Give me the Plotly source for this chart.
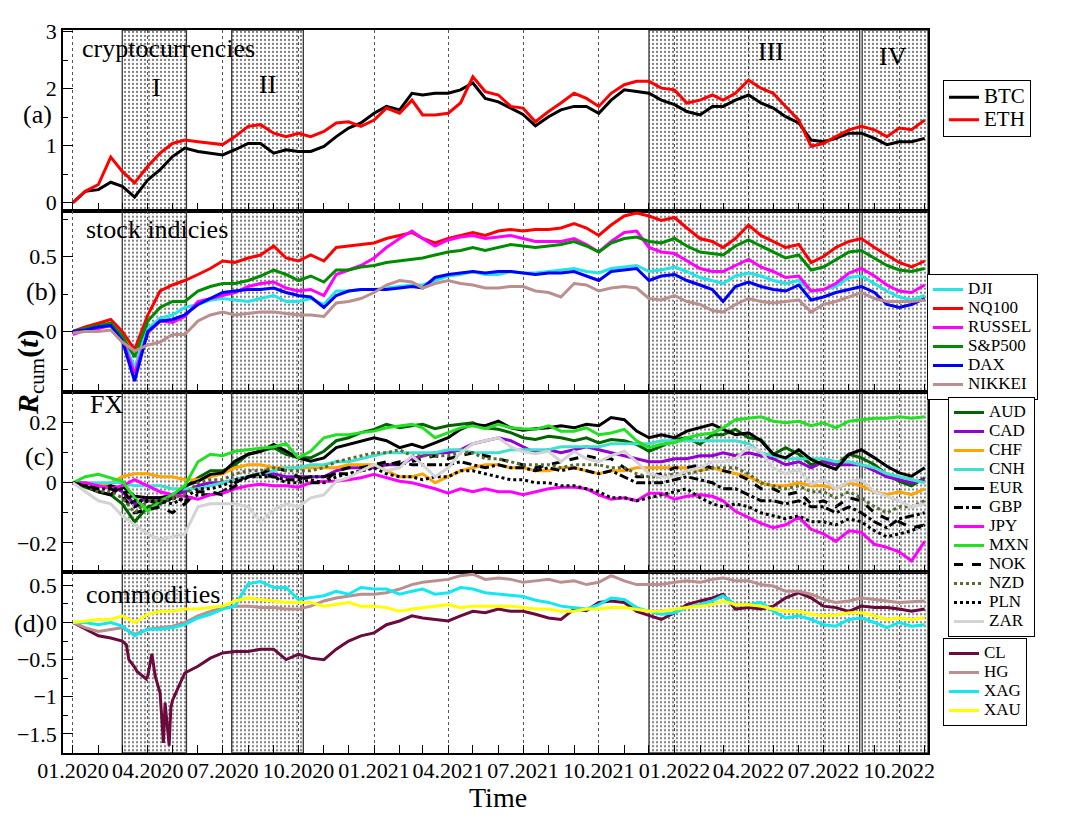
import pandas as pd
import plotly.graph_objects as go
from plotly.subplots import make_subplots

# ---------------- time grid (1st and 16th of each month) ----------------
month_starts = pd.date_range("2020-01-01", "2022-10-01", freq="MS")
dates = []
for d in month_starts:
    dates.append(d.strftime("%Y-%m-%d"))
    dates.append((d + pd.Timedelta(days=15)).strftime("%Y-%m-%d"))
dates.append("2022-11-01")

x_range = ["2019-12-20", "2022-11-05"]
quarter_ticks_start = "2020-01-01"

# ---------------- shaded periods ----------------
region_names = ["I", "II", "III", "IV"]
region_start = ["2020-03-01", "2020-07-12", "2021-12-01", "2022-08-17"]
region_end = ["2020-05-18", "2020-10-07", "2022-08-14", "2022-11-05"]

# ---------------- (a) cryptocurrencies ----------------
BTC = [0.0, 0.2, 0.23, 0.36, 0.29, 0.1, 0.4, 0.58, 0.81, 0.96, 0.9, 0.87,
       0.84, 0.93, 1.04, 1.04, 0.87, 0.93, 0.9, 0.9, 0.99, 1.16, 1.31, 1.4,
       1.57, 1.69, 1.63, 1.92, 1.89, 1.92, 1.92, 1.98, 2.1, 1.83, 1.77, 1.66,
       1.55, 1.35, 1.51, 1.63, 1.69, 1.69, 1.57, 1.8, 1.98, 1.95, 1.92, 1.8,
       1.72, 1.6, 1.54, 1.69, 1.69, 1.8, 1.89, 1.75, 1.66, 1.51, 1.4, 1.1,
       1.07, 1.13, 1.22, 1.22, 1.13, 1.02, 1.07, 1.07,
       1.13]
ETH = [0.0, 0.2, 0.32, 0.8, 0.55, 0.35, 0.64, 0.87, 1.04, 1.1, 1.07, 1.04,
       1.02, 1.16, 1.34, 1.37, 1.22, 1.16, 1.22, 1.16, 1.25, 1.4, 1.42, 1.34,
       1.45, 1.66, 1.57, 1.8, 1.54, 1.54, 1.57, 1.75, 2.21, 1.95, 1.89, 1.69,
       1.66, 1.42, 1.6, 1.75, 1.92, 1.83, 1.69, 1.92, 2.07, 2.13, 2.13, 2.01,
       1.98, 1.75, 1.8, 1.89, 1.8, 1.92, 2.15, 2.01, 1.92, 1.69, 1.45, 0.99,
       1.04, 1.16, 1.28, 1.34, 1.28, 1.16, 1.31, 1.28,
       1.45]

# ---------------- (b) stock indices ----------------
DJI = [0.0, 0.01, 0.03, 0.04, -0.04, -0.24, 0.02, 0.09, 0.11, 0.16, 0.18, 0.21,
       0.22, 0.21, 0.2, 0.22, 0.24, 0.2, 0.2, 0.22, 0.18, 0.27, 0.27, 0.28,
       0.28, 0.29, 0.3, 0.31, 0.31, 0.34, 0.37, 0.38, 0.4, 0.38, 0.38, 0.4,
       0.39, 0.39, 0.4, 0.41, 0.42, 0.4, 0.39, 0.42, 0.43, 0.44, 0.4, 0.41,
       0.43, 0.4, 0.36, 0.34, 0.32, 0.37, 0.39, 0.37, 0.34, 0.32, 0.34, 0.27,
       0.28, 0.3, 0.36, 0.37, 0.32, 0.27, 0.23, 0.21,
       0.24]
NQ100 = [0.0, 0.03, 0.055, 0.08, 0.0, -0.12, 0.11, 0.27, 0.31, 0.34, 0.38, 0.42,
         0.47, 0.46, 0.49, 0.51, 0.57, 0.49, 0.47, 0.51, 0.47, 0.56, 0.57, 0.58,
         0.59, 0.62, 0.64, 0.66, 0.62, 0.59, 0.62, 0.64, 0.66, 0.64, 0.67, 0.68,
         0.67, 0.68, 0.68, 0.69, 0.72, 0.69, 0.64, 0.71, 0.77, 0.79, 0.77, 0.74,
         0.76, 0.69, 0.62, 0.6, 0.56, 0.62, 0.71, 0.64, 0.6, 0.56, 0.58, 0.46,
         0.5, 0.56, 0.6, 0.62, 0.56, 0.51, 0.46, 0.43,
         0.47]
RUSSEL = [-0.02, 0.01, 0.02, 0.04, -0.05, -0.28, -0.01, 0.07, 0.06, 0.1, 0.2, 0.22,
          0.24, 0.26, 0.3, 0.32, 0.33, 0.29, 0.27, 0.28, 0.24, 0.38, 0.41, 0.44,
          0.49, 0.56, 0.62, 0.67, 0.62, 0.57, 0.61, 0.63, 0.64, 0.62, 0.63, 0.64,
          0.62, 0.6, 0.6, 0.6, 0.62, 0.58, 0.53, 0.6, 0.66, 0.67, 0.56, 0.53,
          0.52, 0.47, 0.42, 0.4, 0.4, 0.44, 0.48, 0.43, 0.4, 0.36, 0.37, 0.27,
          0.28, 0.32, 0.39, 0.42, 0.37, 0.31, 0.27, 0.26,
          0.31]
SP500 = [0.0, 0.02, 0.04, 0.055, -0.03, -0.17, 0.07, 0.16, 0.2, 0.2, 0.27, 0.3,
         0.32, 0.32, 0.34, 0.37, 0.41, 0.38, 0.34, 0.37, 0.33, 0.41, 0.41, 0.43,
         0.44, 0.46, 0.47, 0.48, 0.49, 0.51, 0.53, 0.54, 0.56, 0.54, 0.56, 0.58,
         0.57, 0.56, 0.57, 0.58, 0.6, 0.57, 0.53, 0.59, 0.62, 0.63, 0.6, 0.59,
         0.62, 0.57, 0.53, 0.52, 0.51, 0.57, 0.61, 0.57, 0.53, 0.49, 0.51, 0.41,
         0.43, 0.48, 0.53, 0.54, 0.49, 0.44, 0.41, 0.4,
         0.42]
DAX = [0.0, 0.01, 0.03, 0.04, -0.06, -0.33, 0.0, 0.07, 0.08, 0.11, 0.18, 0.22,
       0.26, 0.27, 0.28, 0.28, 0.29, 0.26, 0.24, 0.23, 0.16, 0.24, 0.27, 0.28,
       0.28, 0.28, 0.29, 0.3, 0.29, 0.36, 0.38, 0.39, 0.4, 0.39, 0.4, 0.4,
       0.39, 0.38, 0.39, 0.39, 0.4, 0.37, 0.34, 0.4, 0.41, 0.42, 0.34, 0.37,
       0.38, 0.34, 0.31, 0.28, 0.2, 0.3, 0.33, 0.3, 0.28, 0.27, 0.31, 0.21,
       0.23, 0.26, 0.28, 0.3, 0.26, 0.18, 0.16, 0.18,
       0.22]
NIKKEI = [-0.01, 0.0, 0.0, 0.01, -0.07, -0.13, -0.09, -0.07, -0.02, -0.02, 0.07, 0.11,
          0.13, 0.11, 0.12, 0.13, 0.13, 0.12, 0.11, 0.11, 0.1, 0.19, 0.2, 0.22,
          0.26, 0.31, 0.34, 0.33, 0.29, 0.32, 0.34, 0.32, 0.31, 0.29, 0.29, 0.3,
          0.3, 0.27, 0.26, 0.23, 0.32, 0.31, 0.27, 0.29, 0.3, 0.29, 0.22, 0.21,
          0.24, 0.2, 0.18, 0.14, 0.13, 0.18, 0.22, 0.2, 0.19, 0.2, 0.21, 0.13,
          0.18, 0.2, 0.23, 0.26, 0.22, 0.2, 0.2, 0.2,
          0.21]

# ---------------- (c) FX ----------------
AUD = [0.0, -0.015, -0.03, -0.04, -0.07, -0.13, -0.08, -0.07, -0.05, -0.015, 0.017, 0.04,
       0.04, 0.06, 0.095, 0.105, 0.117, 0.095, 0.083, 0.083, 0.105, 0.14, 0.15, 0.167,
       0.178, 0.195, 0.183, 0.19, 0.195, 0.18, 0.19, 0.195, 0.2, 0.183, 0.178, 0.167,
       0.15, 0.144, 0.155, 0.15, 0.14, 0.15, 0.133, 0.144, 0.14, 0.128, 0.105, 0.122,
       0.144, 0.15, 0.128, 0.16, 0.16, 0.178, 0.15, 0.144, 0.095, 0.117, 0.095, 0.06,
       0.072, 0.06, 0.095, 0.083, 0.06, 0.028, 0.005, -0.01,
       0.017]
CAD = [0.0, 0.0, -0.01, -0.01, -0.03, -0.07, -0.05, -0.05, -0.04, -0.03, -0.01, 0.0,
       0.0, 0.01, 0.02, 0.03, 0.03, 0.02, 0.02, 0.02, 0.02, 0.04, 0.05, 0.05,
       0.05, 0.06, 0.06, 0.08, 0.09, 0.1, 0.1, 0.11, 0.13, 0.14, 0.15, 0.14,
       0.12, 0.1, 0.11, 0.1, 0.11, 0.12, 0.11, 0.1, 0.09, 0.08, 0.07, 0.07,
       0.08, 0.08, 0.09, 0.09, 0.1, 0.09, 0.1, 0.09, 0.08, 0.06, 0.07, 0.05,
       0.07, 0.06, 0.06, 0.06, 0.04, 0.02, 0.01, 0.0,
       0.01]
CHF = [0.0, 0.0, -0.01, 0.0, 0.02, 0.03, 0.03, 0.02, 0.02, 0.01, 0.01, 0.02,
       0.03, 0.05, 0.06, 0.06, 0.05, 0.05, 0.05, 0.05, 0.05, 0.05, 0.06, 0.06,
       0.06, 0.04, 0.02, 0.02, 0.03, 0.0, 0.02, 0.04, 0.05, 0.06, 0.06, 0.05,
       0.05, 0.04, 0.04, 0.05, 0.05, 0.04, 0.03, 0.04, 0.04, 0.05, 0.05, 0.05,
       0.05, 0.05, 0.04, 0.05, 0.04, 0.03, 0.02, 0.0, -0.01, -0.01, 0.0, -0.01,
       -0.01, -0.02, 0.0, -0.01, -0.03, -0.04, -0.03, -0.04,
       -0.02]
CNH = [0.0, 0.0, 0.0, 0.0, 0.0, -0.01, -0.01, -0.01, -0.02, -0.02, -0.02, -0.01,
       0.0, 0.01, 0.02, 0.03, 0.04, 0.05, 0.05, 0.06, 0.06, 0.07, 0.07, 0.08,
       0.09, 0.1, 0.1, 0.1, 0.1, 0.1, 0.11, 0.11, 0.1, 0.1, 0.1, 0.11,
       0.11, 0.11, 0.11, 0.12, 0.12, 0.12, 0.12, 0.13, 0.13, 0.13, 0.13, 0.14,
       0.14, 0.14, 0.14, 0.14, 0.14, 0.14, 0.13, 0.1, 0.09, 0.08, 0.08, 0.08,
       0.08, 0.07, 0.07, 0.06, 0.05, 0.03, 0.02, 0.01,
       0.0]
EUR = [0.0, -0.01, -0.03, -0.04, -0.01, -0.045, -0.05, -0.05, -0.045, -0.01, 0.005, 0.028,
       0.033, 0.072, 0.095, 0.105, 0.128, 0.105, 0.083, 0.072, 0.083, 0.117, 0.128, 0.14,
       0.15, 0.14, 0.117, 0.128, 0.117, 0.133, 0.15, 0.178, 0.195, 0.19, 0.205, 0.183,
       0.175, 0.18, 0.183, 0.19, 0.183, 0.195, 0.19, 0.217, 0.21, 0.172, 0.15, 0.16,
       0.15, 0.172, 0.183, 0.195, 0.178, 0.16, 0.166, 0.14, 0.095, 0.083, 0.11, 0.078,
       0.06, 0.045, 0.095, 0.11, 0.083, 0.055, 0.033, 0.022,
       0.05]
GBP = [0.0, -0.01, -0.02, -0.01, -0.02, -0.08, -0.06, -0.07, -0.05, -0.06, -0.04, -0.04,
       -0.03, 0.0, 0.02, 0.03, 0.02, 0.01, 0.01, 0.02, 0.02, 0.03, 0.03, 0.04,
       0.05, 0.06, 0.07, 0.06, 0.06, 0.06, 0.06, 0.07, 0.06, 0.05, 0.06, 0.05,
       0.05, 0.04, 0.05, 0.04, 0.05, 0.04, 0.03, 0.04, 0.02, 0.0, 0.0, 0.0,
       0.01, 0.02, 0.01, 0.0, -0.02, -0.02, -0.04, -0.06, -0.06, -0.07, -0.06, -0.08,
       -0.08, -0.1, -0.08, -0.1, -0.13, -0.15, -0.12, -0.11,
       -0.1]
JPY = [0.0, 0.0, -0.01, -0.02, -0.01, 0.01, -0.01, -0.03, -0.04, -0.045, -0.055, -0.04,
       -0.035, -0.02, -0.01, -0.005, -0.01, -0.01, -0.015, 0.0, 0.005, 0.005, 0.01, 0.017,
       0.028, 0.017, 0.005, 0.0, -0.01, -0.02, -0.035, -0.02, -0.03, -0.02, -0.03, -0.03,
       -0.04, -0.03, -0.02, -0.015, -0.015, -0.02, -0.04, -0.055, -0.05, -0.06, -0.035, -0.035,
       -0.055, -0.045, -0.04, -0.045, -0.06, -0.095, -0.115, -0.135, -0.15, -0.14, -0.115, -0.155,
       -0.17, -0.195, -0.16, -0.165, -0.205, -0.215, -0.23, -0.26,
       -0.195]
MXN = [0.0, 0.02, 0.028, 0.017, 0.005, -0.05, -0.095, -0.06, -0.04, -0.01, 0.07, 0.095,
       0.09, 0.105, 0.11, 0.117, 0.12, 0.13, 0.083, 0.105, 0.15, 0.16, 0.16, 0.167,
       0.172, 0.183, 0.19, 0.195, 0.183, 0.15, 0.167, 0.183, 0.19, 0.18, 0.195, 0.183,
       0.18, 0.178, 0.19, 0.172, 0.172, 0.183, 0.16, 0.166, 0.178, 0.14, 0.117, 0.128,
       0.133, 0.15, 0.16, 0.166, 0.183, 0.21, 0.215, 0.22, 0.205, 0.2, 0.205, 0.19,
       0.2, 0.183, 0.205, 0.21, 0.215, 0.215, 0.22, 0.215,
       0.22]
NOK = [0.0, -0.01, -0.02, -0.02, -0.04, -0.1, -0.09, -0.08, -0.1, -0.07, -0.03, -0.03,
       -0.04, -0.01, 0.02, 0.03, 0.05, 0.04, 0.02, 0.0, 0.0, 0.04, 0.05, 0.05,
       0.06, 0.07, 0.06, 0.07, 0.08, 0.09, 0.08, 0.09, 0.1, 0.09, 0.08, 0.07,
       0.06, 0.05, 0.06, 0.07, 0.08, 0.09, 0.08, 0.08, 0.05, 0.02, 0.02, 0.03,
       0.05, 0.05, 0.06, 0.05, 0.04, 0.03, 0.01, -0.02, -0.02, -0.04, -0.03, -0.07,
       -0.06, -0.08, -0.05, -0.06, -0.1, -0.12, -0.13, -0.15,
       -0.14]
NZD = [0.0, -0.01, -0.03, -0.03, -0.05, -0.1, -0.06, -0.06, -0.05, -0.04, 0.0, 0.01,
       0.01, 0.03, 0.04, 0.04, 0.05, 0.04, 0.04, 0.04, 0.05, 0.07, 0.08, 0.09,
       0.1, 0.1, 0.11, 0.09, 0.09, 0.09, 0.09, 0.1, 0.1, 0.08, 0.08, 0.07,
       0.06, 0.06, 0.06, 0.05, 0.06, 0.06, 0.06, 0.05, 0.05, 0.03, 0.02, 0.02,
       0.03, 0.03, 0.04, 0.05, 0.05, 0.05, 0.03, 0.0, -0.01, -0.02, -0.01, -0.03,
       -0.03, -0.05, -0.03, -0.05, -0.08, -0.1, -0.08, -0.08,
       -0.06]
PLN = [0.0, -0.01, -0.02, -0.02, -0.02, -0.06, -0.06, -0.06, -0.07, -0.05, -0.02, -0.02,
       -0.01, 0.01, 0.02, 0.02, 0.02, 0.0, 0.0, 0.01, 0.0, 0.02, 0.03, 0.04,
       0.05, 0.03, 0.02, 0.02, 0.01, 0.02, 0.02, 0.04, 0.04, 0.03, 0.02, 0.01,
       0.01, 0.0, 0.0, -0.01, -0.01, -0.02, -0.03, -0.05, -0.05, -0.06, -0.05, -0.04,
       -0.03, -0.02, -0.05, -0.07, -0.08, -0.07, -0.08, -0.1, -0.11, -0.12, -0.11, -0.13,
       -0.13, -0.14, -0.12, -0.13, -0.16, -0.18, -0.17, -0.16,
       -0.14]
ZAR = [0.0, -0.03, -0.06, -0.07, -0.11, -0.14, -0.17, -0.19, -0.18, -0.17, -0.08, -0.07,
       -0.07, -0.07, -0.08, -0.13, -0.09, -0.07, -0.08, -0.05, -0.04, 0.005, 0.017, 0.04,
       0.06, 0.04, 0.05, 0.09, 0.06, 0.02, 0.05, 0.1, 0.13, 0.14, 0.15, 0.12,
       0.103, 0.097, 0.105, 0.07, 0.105, 0.08, 0.07, 0.09, 0.105, 0.07, 0.03, 0.02,
       0.02, 0.04, 0.05, 0.07, 0.07, 0.08, 0.12, 0.105, 0.05, 0.03, 0.045, -0.005,
       0.01, -0.02, 0.005, 0.01, -0.03, -0.045, -0.06, -0.08,
       -0.07]

# ---------------- (d) commodities ----------------
CL = [0.0, -0.09, -0.18, -0.21, -0.25, -0.6, -0.72, -0.95, -1.05, -0.68, -0.59, -0.48,
      -0.41, -0.39, -0.39, -0.36, -0.36, -0.5, -0.43, -0.48, -0.5, -0.36, -0.25, -0.18,
      -0.14, -0.03, 0.02, 0.09, 0.06, 0.04, 0.02, 0.09, 0.15, 0.13, 0.18, 0.15,
      0.15, 0.11, 0.06, 0.04, 0.18, 0.16, 0.27, 0.29, 0.27, 0.15, 0.09, 0.04,
      0.13, 0.24, 0.29, 0.33, 0.38, 0.18, 0.2, 0.18, 0.22, 0.33, 0.4, 0.33,
      0.22, 0.2, 0.15, 0.22, 0.2, 0.2, 0.18, 0.15,
      0.18]
CL_crash_dates = ["2020-03-06", "2020-03-09", "2020-03-19", "2020-03-30", "2020-04-06",
                  "2020-04-10", "2020-04-20", "2020-04-22", "2020-04-27", "2020-04-29",
                  "2020-05-05", "2020-05-11"]
CL_crash = [-0.3, -0.5, -0.66, -0.76, -0.42, -0.72, -1.62, -1.08, -1.66, -1.15, -0.95, -0.8]
HG = [0.0, -0.07, -0.12, -0.09, -0.07, -0.16, -0.09, -0.07, -0.05, 0.0, 0.09, 0.15,
      0.2, 0.22, 0.22, 0.2, 0.2, 0.18, 0.18, 0.22, 0.29, 0.33, 0.36, 0.38,
      0.38, 0.4, 0.45, 0.51, 0.54, 0.56, 0.58, 0.63, 0.65, 0.58, 0.6, 0.58,
      0.54, 0.56, 0.58, 0.54, 0.56, 0.51, 0.54, 0.63, 0.56, 0.51, 0.51, 0.51,
      0.54, 0.56, 0.54, 0.58, 0.6, 0.56, 0.56, 0.51, 0.49, 0.42, 0.42, 0.38,
      0.31, 0.27, 0.29, 0.33, 0.31, 0.29, 0.27, 0.28,
      0.29]
XAG = [0.0, 0.0, -0.03, 0.0, -0.05, -0.18, -0.09, -0.09, -0.07, -0.03, 0.06, 0.11,
       0.18, 0.22, 0.52, 0.55, 0.47, 0.47, 0.31, 0.33, 0.36, 0.42, 0.38, 0.47,
       0.45, 0.45, 0.38, 0.42, 0.45, 0.38, 0.4, 0.47, 0.45, 0.4, 0.38, 0.36,
       0.35, 0.3, 0.27, 0.22, 0.2, 0.18, 0.24, 0.33, 0.31, 0.2, 0.15, 0.11,
       0.13, 0.2, 0.24, 0.29, 0.36, 0.24, 0.24, 0.27, 0.15, 0.06, 0.09, 0.04,
       -0.03, -0.05, 0.04, 0.06, 0.0, -0.07, 0.0, -0.05,
       -0.03]
XAU = [0.0, 0.02, 0.04, 0.04, 0.09, 0.0, 0.11, 0.15, 0.15, 0.18, 0.18, 0.2,
       0.22, 0.29, 0.33, 0.31, 0.29, 0.27, 0.27, 0.27, 0.22, 0.24, 0.27, 0.22,
       0.22, 0.2, 0.15, 0.18, 0.2, 0.22, 0.24, 0.2, 0.22, 0.22, 0.22, 0.22,
       0.2, 0.18, 0.18, 0.15, 0.15, 0.18, 0.18, 0.2, 0.2, 0.18, 0.15, 0.15,
       0.18, 0.2, 0.22, 0.24, 0.29, 0.24, 0.24, 0.22, 0.18, 0.15, 0.15, 0.11,
       0.09, 0.1, 0.13, 0.13, 0.09, 0.04, 0.06, 0.04,
       0.06]

cl_pairs = sorted(list(zip(dates, CL)) + list(zip(CL_crash_dates, CL_crash)))
cl_dates = [p[0] for p in cl_pairs]
cl_values = [p[1] for p in cl_pairs]

# ---------------- panel definitions ----------------
panels = [
    dict(title="cryptocurrencies", letter="(a)", legend="legend",
         yrange=[-0.14, 3.03], dtick=1, minor=0.5,
         series=[("BTC", dates, BTC, "black", "solid"),
                 ("ETH", dates, ETH, "#ff0000", "solid")]),
    dict(title="stock indicies", letter="(b)", legend="legend2",
         yrange=[-0.40, 0.805], dtick=0.5, minor=0.25,
         series=[("DJI", dates, DJI, "#22e6e6", "solid"),
                 ("NQ100", dates, NQ100, "#ff0000", "solid"),
                 ("RUSSEL", dates, RUSSEL, "#ff00ff", "solid"),
                 ("S&P500", dates, SP500, "#008c00", "solid"),
                 ("DAX", dates, DAX, "#0000ff", "solid"),
                 ("NIKKEI", dates, NIKKEI, "#bc8f8f", "solid")]),
    dict(title="FX", letter="(c)", legend="legend3",
         yrange=[-0.298, 0.304], dtick=0.2, minor=0.1,
         series=[("AUD", dates, AUD, "#006400", "solid"),
                 ("CAD", dates, CAD, "#9400d3", "solid"),
                 ("CHF", dates, CHF, "#ffa500", "solid"),
                 ("CNH", dates, CNH, "#40e0d0", "solid"),
                 ("EUR", dates, EUR, "black", "solid"),
                 ("GBP", dates, GBP, "black", "dashdot"),
                 ("JPY", dates, JPY, "#ff00ff", "solid"),
                 ("MXN", dates, MXN, "#22e022", "solid"),
                 ("NOK", dates, NOK, "black", "dash"),
                 ("NZD", dates, NZD, "#556b2f", "dot"),
                 ("PLN", dates, PLN, "black", "dot"),
                 ("ZAR", dates, ZAR, "#d3d3d3", "solid")]),
    dict(title="commodities", letter="(d)", legend="legend4",
         yrange=[-1.757, 0.676], dtick=0.5, minor=0.25,
         series=[("CL", cl_dates, cl_values, "#6b0a3c", "solid"),
                 ("HG", dates, HG, "#bc8f8f", "solid"),
                 ("XAG", dates, XAG, "#12e8f0", "solid"),
                 ("XAU", dates, XAU, "#ffff00", "solid")]),
]

# ---------------- figure geometry ----------------
W, H = 1066, 821
L, R, T, B = 63, 138, 30, 68
PW, PH = W - L - R, H - T - B


def px_x(px):
    return (px - L) / PW


def px_y(py):
    return (H - B - py) / PH


FONT = "Liberation Serif, Times New Roman, serif"
# legend: (left px, top px, nominal font size controlling row height, shown text size)
legend_cfg = {
    "legend": (943, 80, 15, 21),
    "legend2": (927, 274, 12, 17),
    "legend3": (948, 397, 12, 17),
    "legend4": (943, 638, 12, 17),
}

fig = make_subplots(rows=4, cols=1, shared_xaxes=True, vertical_spacing=0)

for i, p in enumerate(panels):
    row = i + 1
    lo, hi = p["yrange"]
    xs, ys = [], []
    for s, e in zip(region_start, region_end):
        xs += [s, e, e, s, s, None]
        ys += [lo, lo, hi, hi, lo, None]
    fig.add_trace(go.Scatter(
        x=xs, y=ys, mode="lines", fill="toself",
        fillcolor="rgba(0,0,0,0)",
        fillpattern=dict(shape=".", size=4, solidity=0.25,
                         fgcolor="black", bgcolor="rgba(0,0,0,0)"),
        line=dict(color="#333333", width=1.3),
        showlegend=False, hoverinfo="skip"), row=row, col=1)
    text_size = legend_cfg[p["legend"]][3]
    for name, xd, yd, color, dash in p["series"]:
        fig.add_trace(go.Scatter(
            x=xd, y=yd, mode="lines",
            name=f"<span style='font-size:{text_size}px'>{name}</span>",
            line=dict(color=color, width=3, dash=dash),
            legend=p["legend"]), row=row, col=1)
    fig.update_yaxes(
        range=p["yrange"], dtick=p["dtick"], tick0=0,
        ticks="inside", ticklen=10, tickwidth=1.2, tickcolor="black",
        minor=dict(dtick=p["minor"], tick0=0, ticks="inside", ticklen=5,
                   tickcolor="black", showgrid=False),
        showgrid=False, zeroline=False,
        showline=True, linecolor="black", linewidth=1.5, mirror=True,
        tickfont=dict(family=FONT, size=22, color="black"),
        row=row, col=1)

fig.update_xaxes(
    type="date", range=x_range,
    dtick="M3", tick0=quarter_ticks_start, tickformat="%m.%Y",
    ticks="inside", ticklen=8, tickcolor="black",
    minor=dict(dtick="M1", tick0=quarter_ticks_start, ticks="inside",
               ticklen=8, tickcolor="black", showgrid=False),
    showgrid=True, griddash="dot", gridcolor="#555555", gridwidth=1,
    zeroline=False, showline=True, linecolor="black", linewidth=1.5, mirror=True,
    ticklabelstandoff=-3,
    tickfont=dict(family=FONT, size=22, color="black"))

fig.update_layout(
    yaxis=dict(domain=[0.75, 1.0]),
    yaxis2=dict(domain=[0.5, 0.75]),
    yaxis3=dict(domain=[0.25, 0.5]),
    yaxis4=dict(domain=[0.0, 0.25]),
)

ann = []
label_pos = [(80, 48), (84, 229), (88, 405), (84, 594)]
letter_pos = [(37, 114), (41, 291), (39, 456), (29, 623)]
for p, (lx, ly), (cx, cy) in zip(panels, label_pos, letter_pos):
    ann.append(dict(text=p["title"], x=px_x(lx), y=px_y(ly), xref="paper", yref="paper",
                    xanchor="left", yanchor="middle", showarrow=False,
                    font=dict(family=FONT, size=26, color="black")))
    ann.append(dict(text=p["letter"], x=px_x(cx), y=px_y(cy), xref="paper", yref="paper",
                    xanchor="center", yanchor="middle", showarrow=False,
                    font=dict(family=FONT, size=26, color="black")))

region_label_pos = [(156, 87), (267, 85), (771, 51), (893, 57)]
for name, (rx, ry) in zip(region_names, region_label_pos):
    ann.append(dict(text=name, x=px_x(rx), y=px_y(ry), xref="paper", yref="paper",
                    xanchor="center", yanchor="middle", showarrow=False,
                    font=dict(family=FONT, size=26, color="black")))

ann.append(dict(text="<b><i>R</i></b><sub>cum</sub><b>(<i>t</i>)</b>",
                x=px_x(30), y=px_y(372), xref="paper", yref="paper",
                textangle=-90, xanchor="center", yanchor="middle", showarrow=False,
                font=dict(family=FONT, size=30, color="black")))
ann.append(dict(text="Time", x=px_x(498), y=px_y(797), xref="paper", yref="paper",
                xanchor="center", yanchor="middle", showarrow=False,
                font=dict(family=FONT, size=28, color="black")))


def legend_box(key):
    lx, ly, nominal, _ = legend_cfg[key]
    return dict(x=px_x(lx), y=px_y(ly), xref="paper", yref="paper",
                xanchor="left", yanchor="top", bgcolor="white",
                bordercolor="black", borderwidth=1, itemwidth=30,
                tracegroupgap=0,
                font=dict(family=FONT, size=nominal, color="black"))


fig.update_layout(
    width=W, height=H,
    margin=dict(l=L, r=R, t=T, b=B, autoexpand=False),
    paper_bgcolor="white", plot_bgcolor="white",
    font=dict(family=FONT, color="black"),
    annotations=ann,
    legend=legend_box("legend"),
    legend2=legend_box("legend2"),
    legend3=legend_box("legend3"),
    legend4=legend_box("legend4"),
)

fig.write_html("out.html")
